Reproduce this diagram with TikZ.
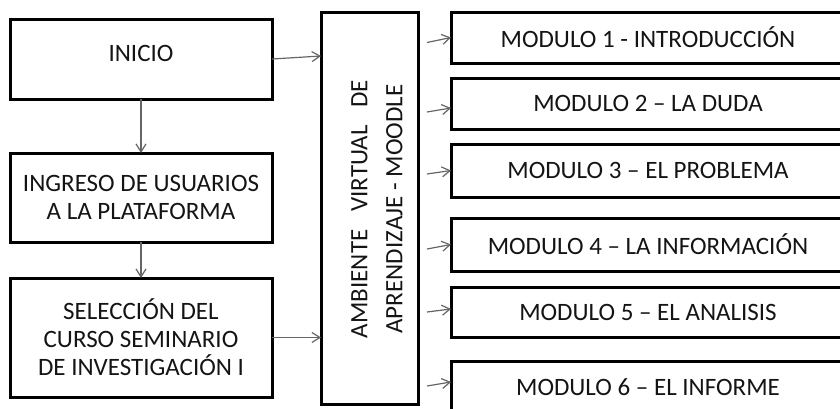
\documentclass[tikz,border=0pt]{standalone}
\usepackage{fontspec}
\setmainfont{Carlito}
\usetikzlibrary{arrows.meta,calc}
\definecolor{txt}{HTML}{141414}
\definecolor{arrowgray}{HTML}{666666}
\tikzset{
  box/.style={draw=black, line width=3pt, rectangle, inner sep=0pt, outer sep=0pt,
    font=\fontsize{25}{28}\selectfont, text=txt, align=center},
  modbox/.style={box, minimum width=394pt},
  leftbox/.style={box, minimum width=262pt},
  arr/.style={draw=arrowgray, line width=1.2pt, -{Straight Barb[length=8pt,width=10pt]}},
  vtext/.style={rotate=90, font=\fontsize{25}{35}\selectfont, text=txt, align=center, inner sep=0pt},
}
\begin{document}
\begin{tikzpicture}[x=1pt,y=-1pt]
\useasboundingbox (0,0) rectangle (840,408);
\clip (0,0) rectangle (840,408);
% left column
\node[leftbox, minimum height=80pt,
  label={[font=\fontsize{25}{28}\selectfont, text=txt, yshift=6pt, inner sep=0pt]center:INICIO}] (inicio) at (141,59) {};
\node[leftbox, minimum height=89pt] (ingreso) at (141,197.5) {INGRESO DE USUARIOS\\A LA PLATAFORMA};
\node[leftbox, minimum height=119pt] (seleccion) at (141,337.5) {SELECCIÓN DEL\\CURSO SEMINARIO\\DE INVESTIGACIÓN I};
% central box
\node[box, minimum width=97pt, minimum height=392pt] (ambiente) at (369.5,208) {};
\node[vtext] (ambtext) at (377,209) {\hbox to 258pt{AMBIENTE\hfill VIRTUAL\hfill DE}\\APRENDIZAJE - MOODLE};
% modules
\node[modbox, minimum height=51pt] (m1) at (648,37.5) {MODULO 1 - INTRODUCCIÓN};
\node[modbox, minimum height=51pt] (m2) at (648,103.5) {MODULO 2 – LA DUDA};
\node[modbox, minimum height=53pt] (m3) at (648,170.5) {MODULO 3 – EL PROBLEMA};
\node[modbox, minimum height=53pt] (m4) at (648,244.5) {MODULO 4 – LA INFORMACIÓN};
\node[modbox, minimum height=50pt] (m5) at (648,312) {MODULO 5 – EL ANALISIS};
\node[modbox, minimum height=52pt] (m6) at (648,387) {MODULO 6 – EL INFORME};
% connectors
\draw[arr] (inicio.south) -- (ingreso.north);
\draw[arr] (ingreso.south) -- (seleccion.north);
\draw[arr] (inicio.east) -- ($(ambiente.north west)+(0,44)$);
\draw[arr] (seleccion.east) -- (seleccion.east -| ambiente.west);
\draw[arr] ($(m1.west)+(-24,5)$) -- (m1.west);
\draw[arr] ($(m2.west)+(-24,8.5)$) -- ($(m2.west)+(0,4.5)$);
\draw[arr] ($(m3.west)+(-24,3.5)$) -- (m3.west);
\draw[arr] ($(m4.west)+(-24,4.5)$) -- (m4.west);
\draw[arr] ($(m5.west)+(-24,0)$) -- ($(m5.west)+(0,-3)$);
\draw[arr] ($(m6.west)+(-24,-1)$) -- ($(m6.west)+(0,-5)$);
\end{tikzpicture}
\end{document}
